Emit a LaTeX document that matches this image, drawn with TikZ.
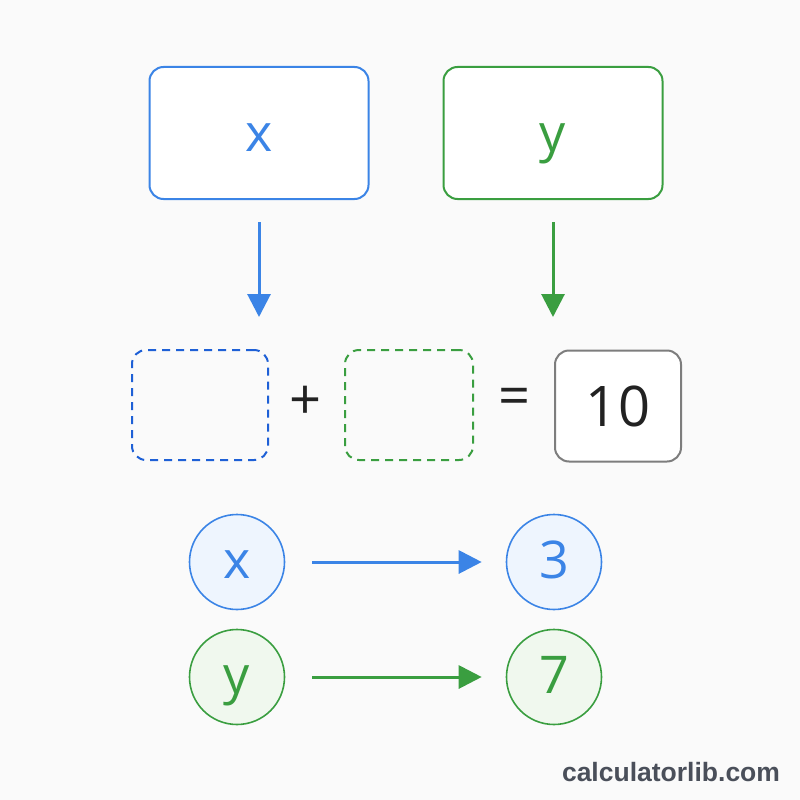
\documentclass[tikz,border=0pt]{standalone}
\usepackage{fontspec}
\setmainfont{Open Sans}
\newfontfamily\markfont{Liberation Sans}
\usetikzlibrary{arrows.meta,positioning}
\definecolor{bblue}{RGB}{59,132,230}
\definecolor{dblue}{RGB}{30,96,214}
\definecolor{ggreen}{RGB}{58,158,64}
\definecolor{lblue}{RGB}{238,245,254}
\definecolor{lgreen}{RGB}{240,248,238}
\definecolor{bgray}{RGB}{125,125,125}
\definecolor{ink}{RGB}{34,34,34}
\definecolor{markgray}{RGB}{74,79,90}
\definecolor{paper}{RGB}{250,250,250}
\tikzstyle{var} = [rectangle, rounded corners=14pt, line width=2pt, fill=white, minimum width=219pt, minimum height=132pt, text height=36pt, text depth=0pt, font=\fontsize{52}{52}\selectfont]
\tikzstyle{slot} = [rectangle, rounded corners=14pt, line width=2pt, dash pattern=on 8pt off 6pt, minimum height=110pt]
\tikzstyle{sol} = [circle, line width=1.6pt, minimum size=95pt, inner sep=0pt, text height=32pt, text depth=0pt, font=\fontsize{52}{52}\selectfont]
\tikzstyle{sign} = [draw=none, fill=none, text=ink, font=\fontsize{56}{56}\selectfont]
\tikzstyle{tedge} = [draw, line width=3pt, -{Triangle[length=23pt,width=23pt]}]

\begin{document}
\begin{tikzpicture}[x=1pt, y=-1pt]
\useasboundingbox[fill=paper] (0,0) rectangle (800,800);

% variables =============================
\node[var, draw=bblue, text=bblue] (bx) at (259,133) {x};
\node[var, draw=ggreen, text=ggreen, right=73pt of bx] (by) {y};

% equation
\node[slot, draw=dblue, minimum width=136pt] (dx) at (200,405) {};
\node[slot, draw=ggreen, minimum width=128pt] (dy) at (409,405) {};
\node[sign] (plus) at (306,403) {+};
\node[sign] (eq) at (515,402) {=};
\node[rectangle, rounded corners=14pt, line width=2pt, draw=bgray, fill=white, text=ink, minimum width=126pt, minimum height=111pt, font=\fontsize{56}{56}\selectfont] (tot) at (618,406) {10};

% solutions
\node[sol, draw=bblue, fill=lblue, text=bblue] (cx) at (237,562) {x};
\node[sol, draw=bblue, fill=lblue, text=bblue] (c3) at (554,562) {3};
\node[sol, draw=ggreen, fill=lgreen, text=ggreen] (cy) at (237,677) {y};
\node[sol, draw=ggreen, fill=lgreen, text=ggreen] (c7) at (554,677) {7};

\node[text=markgray, font=\markfont\bfseries\fontsize{26.5}{26.5}\selectfont] (mark) at (671,772) {calculatorlib.com};

% edges
\coordinate (ax) at (bx.south |- dx.north);
\coordinate (ay) at (by.south |- dy.north);
\path[tedge, bblue, shorten <=22pt, shorten >=32pt] (bx.south) -- (ax);
\path[tedge, ggreen, shorten <=22pt, shorten >=32pt] (by.south) -- (ay);
\path[tedge, bblue, shorten <=27pt, shorten >=24pt] (cx) -- (c3);
\path[tedge, ggreen, shorten <=27pt, shorten >=24pt] (cy) -- (c7);

\end{tikzpicture}
\end{document}
